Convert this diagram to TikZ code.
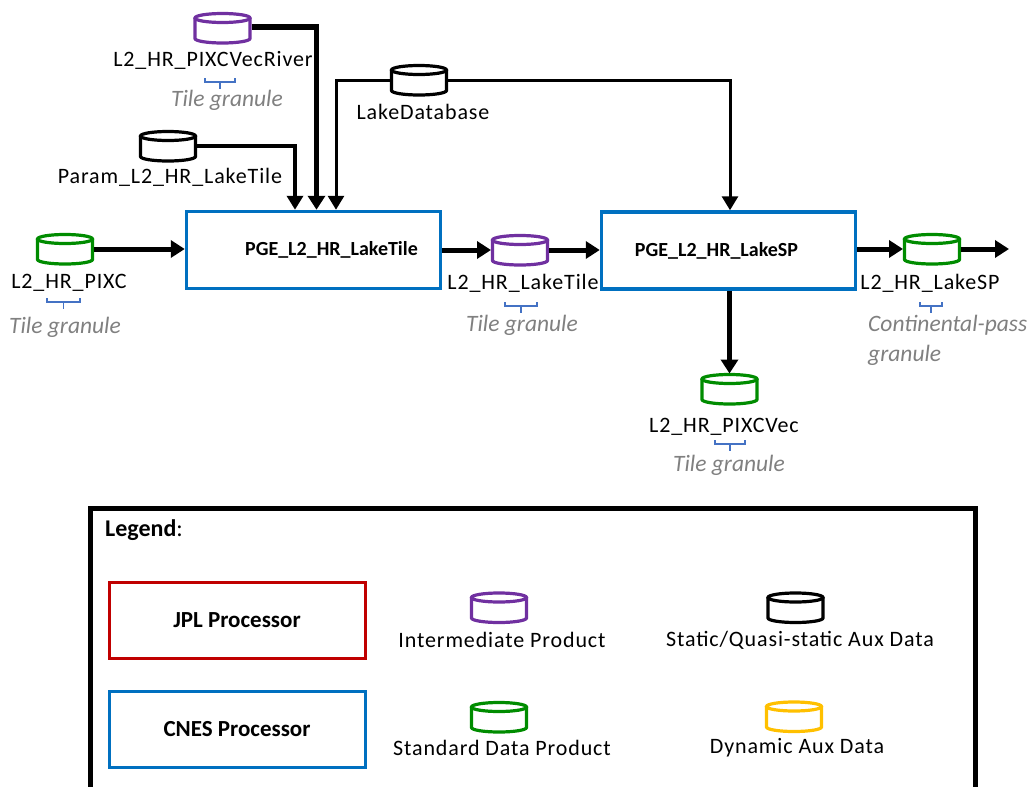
\documentclass[tikz,border=0pt]{standalone}
\usepackage{fontspec}
\setmainfont{Carlito}
\usetikzlibrary{arrows.meta,calc}
\definecolor{cnesblue}{RGB}{0,112,192}
\definecolor{jplred}{RGB}{192,0,0}
\definecolor{interpurple}{RGB}{112,48,160}
\definecolor{stdgreen}{RGB}{0,140,0}
\definecolor{dynyellow}{RGB}{255,192,0}
\definecolor{brblue}{RGB}{68,114,196}
\definecolor{grantext}{RGB}{128,128,128}
\newcommand\drawcyl[2]{%
  \draw[#2,line width=3.2pt] (#1.north) ++(0,5.5) ellipse[x radius=27.5, y radius=4.5];
  \draw[#2,line width=3.2pt] ($(#1.north west)+(1.5,5.5)$) -- ($(#1.south west)+(1.5,-5)$)
     arc[start angle=180,end angle=0,x radius=27.5,y radius=4.5] -- ($(#1.north east)+(-1.5,5.5)$);
}
\newcommand\gbrace[3]{% x1 x2 y
  \draw[brblue,line width=1.3pt] (#1,#3) -- (#1,#3+4) -- (#2,#3+4) -- (#2,#3);
  \draw[brblue,line width=1.3pt] ({(#1+#2)/2},#3+4) -- ({(#1+#2)/2},#3+11);
}
\begin{document}
\begin{tikzpicture}[x=1pt,y=-1pt,
  cylnode/.style={minimum width=58pt,minimum height=31pt,inner sep=0,outer sep=0},
  proc/.style={draw=cnesblue,line width=3.5pt,minimum width=254pt,minimum height=77pt,inner sep=0,font=\fontsize{20}{22}\selectfont\bfseries},
  lbl/.style={font=\fontsize{22}{24}\selectfont\addfontfeature{LetterSpace=4},inner sep=0},
  granlbl/.style={font=\fontsize{23.5}{25}\selectfont\itshape,text=grantext,inner sep=0},
  flow/.style={line width=5pt,-{Triangle[length=14pt,width=17pt]}},
  feed/.style={line width=3.5pt,-{Triangle[length=14pt,width=16pt]}},
]
\useasboundingbox (0,0) rectangle (1031,787);

% processors
\node[proc] (lt) at (313.5,250) {\hspace*{36pt}PGE\_L2\_HR\_LakeTile};
\node[proc] (sp) at (728.5,250.5) {PGE\_L2\_HR\_LakeSP\hspace*{24pt}};

% cylinders
\node[cylnode] (river) at (222.5,28) {};
\node[cylnode] (param) at (168,146) {};
\node[cylnode] (lakedb) at (419,80) {};
\node[cylnode] (pixc) at (65,249) {};
\node[cylnode] (ltout) at (520,250) {};
\node[cylnode] (spout) at (932,249) {};
\node[cylnode] (pixcvec) at (729.5,389) {};
\drawcyl{river}{interpurple}
\drawcyl{param}{black}
\drawcyl{lakedb}{black}
\drawcyl{pixc}{stdgreen}
\drawcyl{ltout}{interpurple}
\drawcyl{spout}{stdgreen}
\drawcyl{pixcvec}{stdgreen}

% labels
\node[lbl] (riverl) at (213,60) {L2\_HR\_PIXCVecRiver};
\gbrace{205}{235}{78}
\node[granlbl] (riverg) at (227,100) {Tile granule};
\node[lbl] (paraml) at (170,177) {Param\_L2\_HR\_LakeTile};
\node[lbl] (lakedbl) at (423,112) {LakeDatabase};
\node[lbl] (pixcl) at (69,283) {L2\_HR\_PIXC};
\gbrace{47}{80}{298}
\node[granlbl] (pixcg) at (65,327) {Tile granule};
\node[lbl] (ltoutl) at (523,283) {L2\_HR\_LakeTile};
\gbrace{505}{537}{302}
\node[granlbl] (ltoutg) at (522,325) {Tile granule};
\node[lbl] (spoutl) at (930,283) {L2\_HR\_LakeSP};
\gbrace{920}{942}{302}
\node[granlbl,anchor=west] (spoutg1) at (868,325) {Continental-pass};
\node[granlbl,anchor=west] (spoutg2) at (868,355) {granule};
\node[lbl] (pixcvecl) at (724,427) {L2\_HR\_PIXCVec};
\gbrace{715}{745}{440}
\node[granlbl] (pixcvecg) at (729,465) {Tile granule};

% connectors
\coordinate (spend) at (1009,249);
\draw[flow] (pixc.east) -- (pixc.east -| lt.west);
\draw[flow] (lt.east) -- (ltout.west);
\draw[flow] (ltout.east) -- (ltout.east -| sp.west);
\draw[flow] (sp.east |- spout.west) -- (spout.west);
\draw[flow] (spout.east) -- (spend);
\draw[flow] (sp.south -| pixcvec.north) -- (pixcvec.north);
\draw[line width=5.5pt,-{Triangle[length=14pt,width=17pt]}] ($(river.east)+(0,-1)$) -| ([xshift=3pt]lt.north);
\draw[feed] (param.east) -| ([xshift=-18.5pt]lt.north);
\draw[feed,line width=3pt] (lakedb.west) -| ([xshift=22.5pt]lt.north);
\draw[feed,line width=3pt] (lakedb.east) -| ([xshift=1.5pt]sp.north);

% legend
\draw[line width=5pt] (90,508) rectangle (975,800);
\node[font=\fontsize{24}{26}\selectfont,anchor=west,inner sep=0] (legt) at (105,530) {\textbf{Legend}:};
\node[proc,draw=jplred,line width=3pt,minimum width=256pt,minimum height=76pt,font=\fontsize{23}{25}\selectfont\bfseries] (jpl) at (237,620) {JPL Processor};
\node[proc,line width=3pt,minimum width=256pt,minimum height=76pt,font=\fontsize{23}{25}\selectfont\bfseries] (cnes) at (237,729) {CNES Processor};
\node[cylnode] (lgint) at (499,607.5) {};
\node[cylnode] (lgstd) at (499,717) {};
\node[cylnode] (lgsta) at (795.5,607.5) {};
\node[cylnode] (lgdyn) at (794,716.5) {};
\drawcyl{lgint}{interpurple}
\drawcyl{lgstd}{stdgreen}
\drawcyl{lgsta}{black}
\drawcyl{lgdyn}{dynyellow}
\node[lbl] (lgintl) at (502,640) {Intermediate Product};
\node[lbl] (lgstdl) at (502,748) {Standard Data Product};
\node[lbl] (lgstal) at (800,640) {Static/Quasi-static Aux Data};
\node[lbl] (lgdynl) at (797,748) {Dynamic Aux Data};
\end{tikzpicture}
\end{document}
